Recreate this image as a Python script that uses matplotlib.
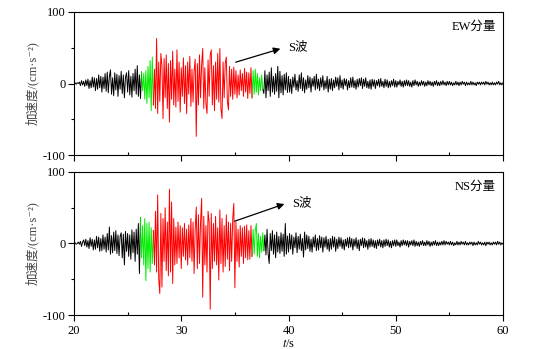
import matplotlib
matplotlib.use("Agg")
import matplotlib.pyplot as plt
import numpy as np
from matplotlib.ticker import MultipleLocator

plt.rcParams['font.family'] = ['Liberation Serif', 'DejaVu Serif', 'Noto Sans CJK SC', 'DejaVu Sans']
plt.rcParams['mathtext.fontset'] = 'stix'
plt.rcParams['axes.unicode_minus'] = False

# ---------------- data ----------------
ew_black1 = [0, 1, -1, 1, 0, 2, -3, 4, -2, 3,
             -4, 5, -3, 6, -7, 4, -6, 9, -5, 8,
             -10, 7, -8, 12, -6, 10, -12, 9, -7, 14,
             -11, 16, -13, 10, 19, -15, 8, -17, 15, -9,
             13, -18, 11, -8, 17, -14, 12, -20, 9, 15,
             -12, 18, -16, 10, -19, 14, -10, 20, -15, 25,
             -18, 12, -21, 16]
ew_green1 = [-10, 14, -22, 18, -28, 24, -20, 32, -38, 37, -30]
ew_red = [20, -35, 63, -42, 30,
          -25, 42, 25, -49, 35, -20, 40, -35, 28, -54,
          32, -22, 45, -30, 20, -33, 47, -25, 30, -40,
          22, -18, 36, -28, 25, -42, 30, -15, 38, -32,
          20, -26, 18, 34, -74, 28, -30, 40, -20, 26,
          49, -35, 22, -28, -42, 33, -18, 40, 47, -30,
          25, -38, 30, -22, 42, -26, 49, -35, -49, 30,
          -20, 28, 37, -25, -37, 24, -18, 20, -22, 23,
          -15, 18, -20, 12, -16, 19, -10, 14, -18, 21,
          -12, 16, -21, 15, -14, 22, -20]
ew_green2 = [18, -15, 20, -12, 14, -16, 8, -10, 12, -8]
ew_black2 = [-14, 18, -20, 12, -10, 16, -18, 22, -12, 10, -15, 14,
             -11, 24, -20, 17, -13, 11, -16, 13, -9, 15, -12]
ew_black3 = [10, -12, 6, -14, 9, -5, 13, -9, 4, -11,
             12, -7, 15, -10, 8, -13, 5, -8, 11, -6,
             9, -12, 7, -4, 10, -9, 13, -7, 6, -10,
             8, -5, 11, -9, 4, -7, 10, -12, 6, -8,
             7, -10, 5, -6, 9, -4, 8, -9, 11, -6,
             5, -8, 7, -3, 6, -9, 4, -6, 8, -5,
             9, -6, 4, -8, 6, -5, 7, -3, 8, -7,
             6, -4, 8, -6, 3, -7, 5, -8, 6, -4,
             5, -7, 4, -3, 6, -5, 7, -4, 3, -6,
             6, -4, 5, -6, 3, -5, 4, -3, 6, -5,
             4, -5, 3, -2, 5, -4, 3, -5, 4, -3,
             5, -3, 4, -4, 2, -5, 4, -3, 5, -2,
             3, -4, 2, -3, 4, -2, 3, -4, 2, -3,
             4, -2, 3, -3, 2, -4, 3, -2, 4, -3,
             2, -3, 3, -2, 4, -2, 2, -3, 3, -2,
             3, -2, 2, -3, 1, -2, 3, -2, 2, -3,
             2, -2, 3, -1, 2, -3, 2, -2, 1, -2,
             3, -2, 2, -2, 1, -3, 2, -1, 2, -2,
             2, -1, 2, -2, 3, -1, 2, -2, 1, -2,
             2, -2, 1, -2, 2, -1, 3, -2, 1, -2,
             1]

ns_black1 = [0, 1, -1, 0, 2, -1, 3, -4, 2, 5,
             -3, 6, -5, 4, -7, 8, -4, 6, -9, 5,
             -8, 10, -6, 9, -11, 7, -10, 12, -8, 9,
             -12, 14, -9, 23, -15, 11, -13, 16, -10, 18,
             -14, 12, -17, 10, 15, -20, 13, -30, 17, -11,
             14, -18, 12, -22, 19, -13, 16, -25, 20, -15,
             28, -42, 36]
ns_green1 = [-20, 25, -30, 35, -52, 28, -35, 30, -40, 22, -28, 18]
ns_red = [-30, 45, -40, 68, -50,
          -70, 42, -61, 35, -25, 50, -38, 30, -45, 76,
          -40, 58, -56, 35, -30, 23, -28, 30, -20, 25,
          -35, 22, -18, 28, -23, 20, -30, 26, -20, 35,
          -25, 30, -42, 20, 51, -35, 40, -28, 30, 63,
          -75, 38, -30, 25, -40, 45, 30, -92, 42, -35,
          28, -25, 38, -30, 22, -51, 47, -28, 35, -40,
          25, -32, 40, -22, 30, -38, 28, -25, 35, 56,
          -62, 30, -25, 20, -33, 25, -18, 22, -28, 24,
          -20, 26, -23, 18, -22, 25, -18]
ns_green2 = [20, -15, 18, 28, -18, 14, -20, 10, -12, 15, -10]
ns_black2 = [12, -16, 20, -14, -28, 14, -10, 18, -15, 12, -20, 16,
             -12, 10, -14, 15, -11, 13, -18, 28, -15, 10]
ns_black3 = [-12, 14, -8, 12, -15, 9, -6, 15, -13, 10,
             -8, 13, -10, 7, -19, 16, -9, 12, -7, 10,
             -11, 6, -12, 9, -5, 12, -10, 7, -9, 11,
             -6, 9, -12, 8, -5, 10, -8, 6, -11, 7,
             -8, 10, -5, 9, -11, 6, -7, 9, -4, 8,
             -7, 5, -9, 6, -4, 8, -6, 9, -5, 7,
             -9, 6, -4, 8, -7, 5, -10, 6, -3, 8,
             -6, 7, -5, 4, -8, 6, -5, 7, -4, 5,
             -6, 4, -7, 5, -3, 6, -5, 4, -6, 5,
             -4, 6, -3, 5, -5, 3, -6, 4, -3, 5,
             -4, 5, -3, 2, -5, 4, -3, 5, -2, 4,
             -3, 4, -5, 3, -2, 4, -3, 5, -4, 3,
             -3, 2, -4, 3, -2, 4, -3, 2, -3, 4,
             -2, 3, -4, 2, -3, 3, -2, 4, -3, 2,
             -3, 2, -2, 3, -2, 4, -2, 3, -1, 2,
             -2, 3, -2, 2, -3, 1, -2, 3, -2, 2,
             -2, 3, -1, 2, -2, 3, -2, 1, -2, 2,
             -1, 2, -3, 2, -2, 1, -2, 3, -1, 2,
             -2, 1, -2, 2, -3, 2, -1, 2, -2, 1,
             -2, 2, -1, 2, -2, 3, -1, 2, -2, 1,
             -1]

GREEN, RED = '#00ee00', '#ff0000'
ew_segments = [(20.0, 0.1, ew_black1, 'black'), (26.4, 0.1, ew_green1, GREEN),
               (27.5, 0.1, ew_red, RED), (36.7, 0.1, ew_green2, GREEN),
               (37.7, 0.1, ew_black2, 'black'), (40.0, 0.1, ew_black3, 'black')]
ns_segments = [(20.0, 0.1, ns_black1, 'black'), (26.3, 0.1, ns_green1, GREEN),
               (27.5, 0.1, ns_red, RED), (36.7, 0.1, ns_green2, GREEN),
               (37.8, 0.1, ns_black2, 'black'), (40.0, 0.1, ns_black3, 'black')]

panels = [("EW分量", ew_segments, (34.83, 28.7), (39.49, 49.7), (39.95, 51)),
          ("NS分量", ns_segments, (34.73, 29.9), (39.86, 56.5), (40.3, 56.5))]

fig = plt.figure(figsize=(5.5, 3.49), dpi=100)
left, width, height = 74 / 550, 429 / 550, 143 / 349
tops = [12, 172]
axes = [fig.add_axes([left, 1 - (top + 143) / 349, width, height]) for top in tops]

FS = 9
for ax, (name, segs, a0, a1, tpos) in zip(axes, panels):
    prev = None
    data = []
    for t0, dt, vals, col in segs:
        t = t0 + dt * np.arange(len(vals))
        v = np.array(vals, dtype=float)
        if prev is not None:
            t = np.concatenate([[prev[0]], t])
            v = np.concatenate([[prev[1]], v])
        prev = (t[-1], v[-1])
        data.append((t, v, col))
    for k in [0, 5, 4, 1, 3, 2]:
        t, v, col = data[k]
        ax.plot(t, v, color=col, lw=0.7, zorder=2 + (k in (1, 2, 3)))
    ax.set_xlim(20, 60)
    ax.set_ylim(-100, 100)
    ax.xaxis.set_major_locator(MultipleLocator(10))
    ax.xaxis.set_minor_locator(MultipleLocator(5))
    ax.yaxis.set_major_locator(MultipleLocator(100))
    ax.yaxis.set_minor_locator(MultipleLocator(50))
    ax.tick_params(axis='x', which='major', direction='out', length=4, width=0.8, labelsize=FS, pad=3)
    ax.tick_params(axis='x', which='minor', direction='in', length=2.5, width=0.8)
    ax.tick_params(axis='y', which='major', direction='out', length=4, width=0.8, labelsize=FS, pad=2)
    ax.tick_params(axis='y', which='minor', direction='out', length=2.5, width=0.8)
    for s in ax.spines.values():
        s.set_linewidth(0.8)
    ax.set_ylabel("加速度/(cm·s⁻²)", fontsize=FS, color='#444444', labelpad=3)
    ax.text(0.984, 0.895, name, transform=ax.transAxes, ha='right', va='center', fontsize=FS)
    ax.annotate("", xy=a1, xytext=a0,
                arrowprops=dict(arrowstyle='-|>', color='black', lw=0.9, mutation_scale=10))
    ax.text(tpos[0], tpos[1], "S波", ha='left', va='center', fontsize=FS)

axes[0].tick_params(axis='x', labelbottom=False)
axes[1].set_xlabel("$t$/s", fontsize=FS, labelpad=1)

fig.savefig("out.png", dpi=100)
